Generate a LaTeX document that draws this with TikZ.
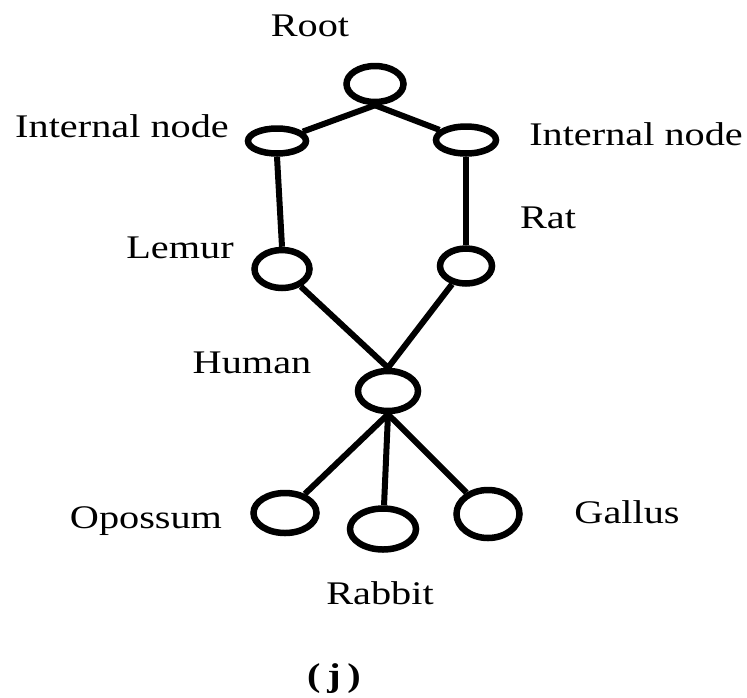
\documentclass[tikz,border=0pt]{standalone}
\usepackage{fontspec}
\setmainfont{Liberation Serif}
\usepackage{tikz}
\usetikzlibrary{shapes.geometric}

\begin{document}
\begin{tikzpicture}[x=1pt,y=-1pt,
    taxon/.style={draw,ellipse,line width=6.5pt,inner sep=0pt},
    branch/.style={line width=6pt},
    lbl/.style={font=\fontsize{33}{36}\selectfont,anchor=base,inner sep=0pt,xscale=1.22,transform shape}]
\useasboundingbox (0,0) rectangle (747,697);
\node[taxon,minimum width=57pt,minimum height=36pt] (root) at (375,84) {};
\node[taxon,minimum width=58pt,minimum height=25pt] (intl) at (277,141) {};
\node[taxon,minimum width=60pt,minimum height=27pt] (intr) at (466,140) {};
\node[taxon,minimum width=55pt,minimum height=38pt] (lemur) at (282,269) {};
\node[taxon,minimum width=52pt,minimum height=35pt] (rat) at (466,266) {};
\node[taxon,minimum width=60pt,minimum height=40pt] (human) at (388,391) {};
\node[taxon,minimum width=63pt,minimum height=40pt] (opossum) at (285,513) {};
\node[taxon,minimum width=66pt,minimum height=41pt] (rabbit) at (383,529) {};
\node[taxon,minimum width=63pt,minimum height=48pt] (gallus) at (488,514) {};
\draw[branch] (root.south) -- (intl);
\draw[branch] (root.south) -- (intr);
\draw[branch] (intl.south) -- (lemur.north);
\draw[branch] (intr.south) -- (rat.north);
\foreach \n in {lemur,rat} \draw[branch] (\n) -- (human.north);
\foreach \n in {opossum,rabbit,gallus} \draw[branch] (human.south) -- (\n);
\node[lbl] (rootlbl) at (310,36) {Root};
\node[lbl] (intllbl) at (122,137) {Internal node};
\node[lbl] (intrlbl) at (636,145) {Internal node};
\node[lbl] (lemurlbl) at (180,258) {Lemur};
\node[lbl] (ratlbl) at (548,228) {Rat};
\node[lbl] (humanlbl) at (252,373) {Human};
\node[lbl] (opossumlbl) at (146,528) {Opossum};
\node[lbl] (galluslbl) at (627,523) {Gallus};
\node[lbl] (rabbitlbl) at (380,604) {Rabbit};
\node[lbl,font=\fontsize{33}{36}\selectfont\bfseries] (caption) at (334,686) {(\,j\,)};
\end{tikzpicture}
\end{document}
